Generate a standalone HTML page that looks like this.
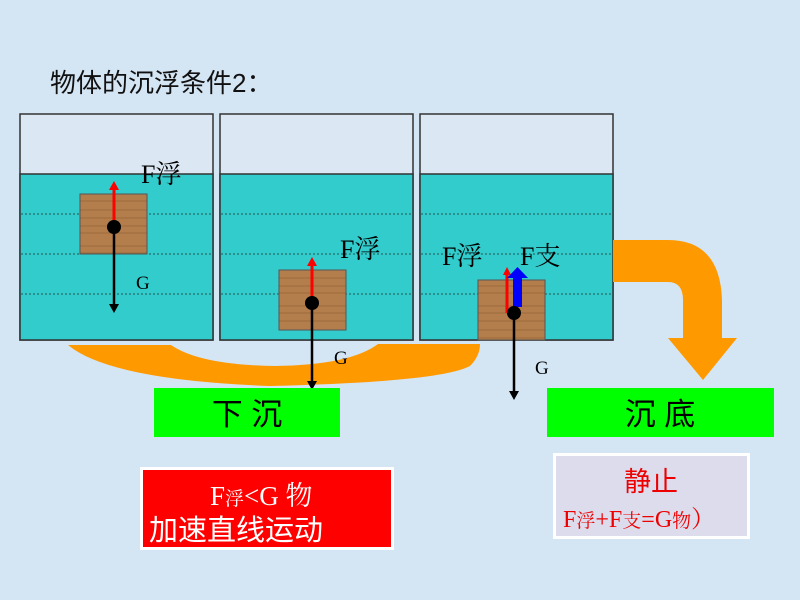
<!DOCTYPE html>
<html><head><meta charset="utf-8"><style>
html,body{margin:0;padding:0;width:800px;height:600px;overflow:hidden;background:#d6e6f4;}
svg{display:block}
text{font-family:"Liberation Serif","Noto Serif CJK SC",serif;}
.s{font-family:"Liberation Sans","Noto Sans CJK SC",sans-serif;}
</style></head><body>
<svg width="800" height="600" viewBox="0 0 800 600" xmlns="http://www.w3.org/2000/svg">
<defs>
<pattern id="wood" width="67" height="60" patternUnits="userSpaceOnUse">
<rect width="67" height="60" fill="#b47e4c"/>
<path d="M0 6h67M0 13h67M0 21h67M0 30h67M0 38h67M0 46h67M0 53h67" stroke="#7e5028" stroke-width="1" opacity="0.45"/>
</pattern>
</defs>
<rect width="800" height="600" fill="#d4e5f4"/>
<text x="50" y="92" class="s" font-size="26" fill="#111">物体的沉浮条件2：</text>

<g stroke="#333" stroke-width="1.5">
<rect x="20" y="114" width="193" height="226" fill="#dbe8f3"/>
<rect x="220" y="114" width="193" height="226" fill="#dbe8f3"/>
<rect x="420" y="114" width="193" height="226" fill="#dbe8f3"/>
<rect x="20" y="174" width="193" height="166" fill="#33cccc"/>
<rect x="220" y="174" width="193" height="166" fill="#33cccc"/>
<rect x="420" y="174" width="193" height="166" fill="#33cccc"/>
</g>
<g stroke="#225555" stroke-width="1" stroke-dasharray="2,2">
<path d="M21 214H212M21 254H212M21 294H212M221 214H412M221 254H412M221 294H412M421 214H612M421 254H612M421 294H612"/>
</g>

<path d="M68 345 Q110 380 270 386 Q440 382 470 366 Q480 356 480 344 L378 344 Q350 365 275 366 Q200 365 171 345 Z" fill="#ff9900"/>
<path d="M613 240 L668 240 Q720 240 722 300 L722 338 L737 338 L703 380 L668 338 L683 338 L683 300 Q683 282 668 282 L613 282 Z" fill="#ff9900"/>

<rect x="80" y="194" width="67" height="60" fill="url(#wood)" stroke="#555"/>
<rect x="279" y="270" width="67" height="60" fill="url(#wood)" stroke="#555"/>
<rect x="478" y="280" width="67" height="60" fill="url(#wood)" stroke="#555"/>

<line x1="114" y1="227" x2="114" y2="188" stroke="#f00" stroke-width="3"/>
<path d="M109 190L114 181L119 190Z" fill="#f00"/>
<line x1="114" y1="227" x2="114" y2="305" stroke="#000" stroke-width="2.5"/>
<path d="M109 304L114 313L119 304Z" fill="#000"/>
<circle cx="114" cy="227" r="7" fill="#000"/>
<line x1="312" y1="303" x2="312" y2="264" stroke="#f00" stroke-width="3"/>
<path d="M307 266L312 257L317 266Z" fill="#f00"/>
<line x1="312" y1="303" x2="312" y2="382" stroke="#000" stroke-width="2.5"/>
<path d="M307 381L312 390L317 381Z" fill="#000"/>
<circle cx="312" cy="303" r="7" fill="#000"/>
<line x1="507" y1="313" x2="507" y2="273" stroke="#f00" stroke-width="3"/>
<path d="M503 275L507 267L511 275Z" fill="#f00"/>
<rect x="513" y="277" width="9" height="30" fill="#0000ff"/>
<path d="M507 278L517.5 267L528 278Z" fill="#0000ff"/>
<line x1="514" y1="313" x2="514" y2="392" stroke="#000" stroke-width="2.5"/>
<path d="M509 391L514 400L519 391Z" fill="#000"/>
<circle cx="514" cy="313" r="7" fill="#000"/>

<text x="141" y="183" font-size="26" fill="#000">F浮</text>
<text x="340" y="258" font-size="26" fill="#000">F浮</text>
<text x="442" y="265" font-size="26" fill="#000">F浮</text>
<text x="520" y="265" font-size="26" fill="#000">F支</text>
<text x="136" y="289" font-size="19" fill="#000">G</text>
<text x="334" y="364" font-size="19" fill="#000">G</text>
<text x="535" y="374" font-size="19" fill="#000">G</text>

<rect x="154" y="388" width="186" height="49" fill="#00ff00"/>
<text x="247" y="425" font-size="31" text-anchor="middle" class="s" fill="#000">下 沉</text>
<rect x="547" y="388" width="227" height="49" fill="#00ff00"/>
<text x="660" y="425" font-size="31" text-anchor="middle" class="s" fill="#000">沉 底</text>

<rect x="140" y="467" width="254" height="83" fill="#fff"/>
<rect x="143" y="470" width="248" height="77" fill="#ff0000"/>
<text x="210" y="505" font-size="27" fill="#fff">F<tspan font-size="19">浮</tspan>&lt;G  物</text>
<text x="149" y="540" font-size="29" class="s" fill="#fff">加速直线运动</text>

<rect x="553" y="453" width="197" height="86" fill="#fff"/>
<rect x="556" y="456" width="191" height="80" fill="#dcdcec"/>
<text x="651" y="491" font-size="27" text-anchor="middle" class="s" fill="#e00">静止</text>
<text x="563" y="527" font-size="24" fill="#e00">F<tspan font-size="19">浮</tspan>+F<tspan font-size="19">支</tspan>=G<tspan font-size="19">物</tspan>）</text>
</svg>
</body></html>
